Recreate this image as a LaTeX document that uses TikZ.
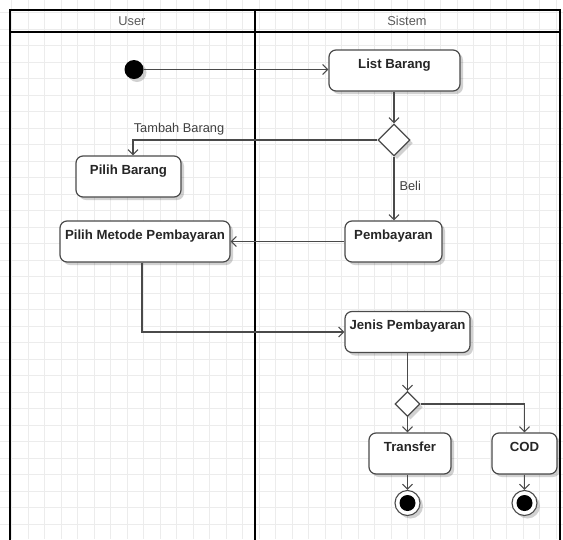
\documentclass[tikz,border=0pt]{standalone}
\usepackage{fontspec}
\setmainfont{Liberation Sans}
\usetikzlibrary{arrows.meta,shapes.geometric,shadows}
\definecolor{ln}{HTML}{4A4A4A}
\definecolor{gridc}{HTML}{ECECEC}
\definecolor{hdrtext}{HTML}{5A5A5A}
\begin{document}
\begin{tikzpicture}[x=1pt,y=-1pt,
  shad/.style={drop shadow={shadow xshift=3pt,shadow yshift=-3pt,opacity=0.18,fill=black}},
  act/.style={draw=ln, line width=1.2pt, rounded corners=7pt, fill=white, shad,
    font=\fontsize{13.2}{15}\selectfont\bfseries, text=black!85,
    minimum height=41pt, inner xsep=2pt, inner ysep=8.5pt, text height=9.5pt, text depth=14.5pt},
  dec/.style={diamond, draw=ln, line width=1.2pt, fill=white, shad, inner sep=0pt},
  arr/.style={draw=ln, line width=1.1pt, -{Straight Barb[length=5pt,width=10pt]}},
  hdr/.style={font=\fontsize{12.8}{15}\selectfont, text=hdrtext},
  lbl/.style={font=\fontsize{12.8}{15}\selectfont, text=black!75},
  lane/.style={draw=black, line width=1.8pt},
  finalo/.style={circle, draw=ln, line width=1.1pt, fill=white, minimum size=25pt, inner sep=0pt, shad},
  finali/.style={circle, fill=black, minimum size=16pt, inner sep=0pt}
]
\useasboundingbox (0,0) rectangle (563,539);
\fill[white] (0,0) rectangle (563,539);
\begin{scope}
\clip (0,0) rectangle (563,539);
% grid
\foreach \gx in {0,...,34} {\draw[gridc, line width=0.7pt] (11.5+16.5*\gx,0) -- (11.5+16.5*\gx,539);}
\foreach \gy in {0,...,33} {\draw[gridc, line width=0.7pt] (0,12.5+16.5*\gy) -- (563,12.5+16.5*\gy);}
% lanes
\draw[lane] (10,540) -- (10,10) -- (560,10) -- (560,540);
\draw[lane] (10,32) -- (560,32);
\draw[draw=black, line width=2.8pt] (255,10) -- (255,540);
\end{scope}
\node[hdr] (huser) at (132,21) {User};
\node[hdr] (hsis) at (407,21) {Sistem};

% nodes
\node[circle, fill=black, minimum size=19pt, inner sep=0pt, shad] (init) at (134,69.5) {};
\node[act, minimum width=131pt] (lb) at (394.5,70.5) {List Barang};
\node[dec, minimum width=32pt, minimum height=32pt] (d1) at (394,140) {};
\node[act, minimum width=105pt] (pb) at (128.5,176.5) {Pilih Barang};
\node[act, minimum width=170pt] (pm) at (145,241.5) {Pilih Metode Pembayaran};
\node[act, minimum width=97pt] (pay) at (393.5,241.5) {Pembayaran};
\node[act, minimum width=125pt] (jp) at (407.5,332) {Jenis Pembayaran};
\node[dec, minimum width=25pt, minimum height=25pt] (d2) at (407.5,404) {};
\node[act, minimum width=82pt] (tr) at (410,453.5) {Transfer};
\node[act, minimum width=65pt] (cod) at (524.5,453.5) {COD};
\node[finalo] (f1) at (407.5,503) {};
\node[finali] (f1i) at (f1) {};
\node[finalo] (f2) at (524.5,503) {};
\node[finali] (f2i) at (f2) {};

% connectors
\draw[arr] (init) -- (init -| lb.west);
\draw[arr] (lb.south -| d1) -- (d1.north);
\draw[arr] (d1.west) -| ([xshift=4.5pt]pb.north);
\node[lbl] (ltb) at (179,129) {Tambah Barang};
\draw[arr] (d1.south) -- (d1.south |- pay.north);
\node[lbl, anchor=west] (lbeli) at (396,186) {Beli};
\draw[arr] (pay.west) -- (pm.east);
\draw[arr] ([xshift=-3pt]pm.south) |- (jp.west);
\draw[arr] (jp.south -| d2) -- (d2.north);
\draw[arr] (d2.south) -- (d2.south |- tr.north);
\draw[arr] (d2.east) -| (cod.north);
\draw[arr] (tr.south -| f1) -- (f1.north);
\draw[arr] (cod.south) -- (f2.north);
\end{tikzpicture}
\end{document}
